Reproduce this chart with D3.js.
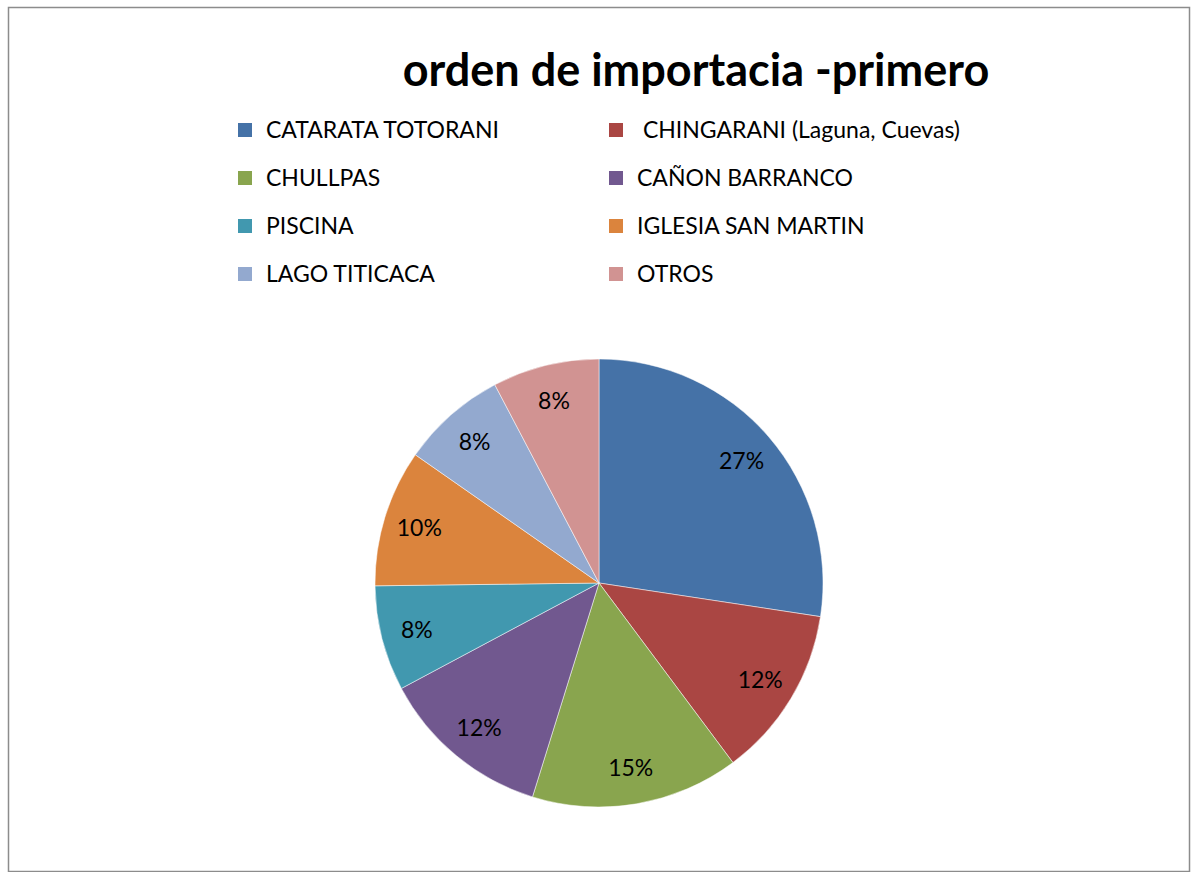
<!DOCTYPE html>
<html>
<head>
<meta charset="utf-8">
<script src="https://cdn.jsdelivr.net/npm/d3@7"></script>
<style>
  html, body { margin: 0; padding: 0; background: #fff; }
  svg { display: block; }
</style>
</head>
<body>
<div id="chart"></div>
<script>
// Data
const categories = [
  'CATARATA TOTORANI',
  ' CHINGARANI (Laguna, Cuevas)',
  'CHULLPAS',
  'CAÑON BARRANCO',
  'PISCINA',
  'IGLESIA SAN MARTIN',
  'LAGO TITICACA',
  'OTROS'
];
const shares = [27.4, 12.4, 15.0, 12.4, 7.6, 9.9, 7.6, 7.7];
const colors = ['#4572A7', '#AA4643', '#89A54E', '#71588F', '#4198AF', '#DB843D', '#93A9CF', '#D19392'];
const title = 'orden de importacia -primero';

const width = 1192, height = 872;
const cx = 599, cy = 583, radius = 224;
const font = 'Lato, "Open Sans", sans-serif';

const svg = d3.select('#chart').append('svg')
  .attr('width', width)
  .attr('height', height);

// outer frame
svg.append('rect')
  .attr('x', 8.5).attr('y', 7.5)
  .attr('width', 1181).attr('height', 864)
  .attr('fill', '#fff')
  .attr('stroke', '#8c8c8c')
  .attr('stroke-width', 1.5);

// title
svg.append('text')
  .attr('x', 696).attr('y', 86)
  .attr('text-anchor', 'middle')
  .attr('font-family', font)
  .attr('font-weight', 'bold')
  .attr('font-size', 45)
  .attr('fill', '#000')
  .text(title);

// legend, two columns
const legend = svg.append('g').attr('class', 'legend');
const colX = [238, 609];
const rowY = d3.scaleLinear().domain([0, 1]).range([130, 178]);

const items = legend.selectAll('g')
  .data(categories.map((c, i) => ({ name: c, color: colors[i], i })))
  .join('g')
    .attr('transform', d => `translate(${colX[d.i % 2]},${rowY(Math.floor(d.i / 2))})`);

items.append('rect')
  .attr('x', 0).attr('y', -7)
  .attr('width', 14).attr('height', 14)
  .attr('fill', d => d.color);

items.append('text')
  .attr('x', 28).attr('y', 0)
  .attr('dy', '0.35em')
  .attr('font-family', font)
  .attr('font-size', 23)
  .attr('fill', '#000')
  .attr('xml:space', 'preserve')
  .style('white-space', 'pre')
  .text(d => d.name);

// pie
const pie = d3.pie().sort(null).value(d => d)(shares);
const arc = d3.arc().innerRadius(0).outerRadius(radius);
const labelArc = d3.arc().innerRadius(188).outerRadius(188);
const total = d3.sum(shares);

const g = svg.append('g').attr('transform', `translate(${cx},${cy})`);

g.selectAll('path')
  .data(pie)
  .join('path')
    .attr('d', arc)
    .attr('fill', (d, i) => colors[i])
    .attr('stroke', '#fff')
    .attr('stroke-width', 0.5);

g.selectAll('text')
  .data(pie)
  .join('text')
    .attr('transform', d => `translate(${labelArc.centroid(d)})`)
    .attr('text-anchor', 'middle')
    .attr('dy', '0.35em')
    .attr('font-family', font)
    .attr('font-size', 23)
    .attr('fill', '#000')
    .text(d => Math.round(d.value / total * 100) + '%');
</script>
</body>
</html>
